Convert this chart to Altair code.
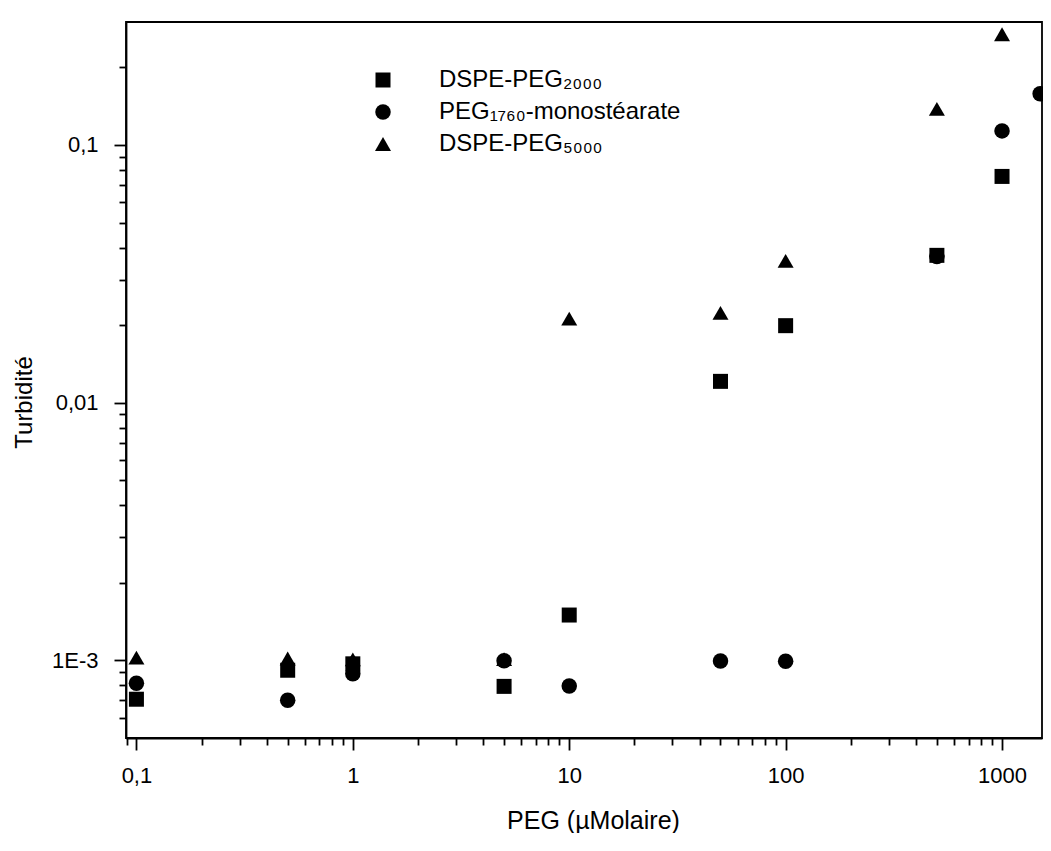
import altair as alt
import pandas as pd

# ---- data ----
x_conc = [0.1, 0.5, 1, 5, 10, 50, 100, 500, 1000]
dspe_peg2000 = [7.07e-4, 9.16e-4, 9.7e-4, 7.93e-4, 1.50e-3, 0.0121, 0.0199, 0.0373, 0.0755]

x_conc_peg1760 = [0.1, 0.5, 1, 5, 10, 50, 100, 500, 1000, 1500]
peg1760_monostearate = [8.15e-4, 7.01e-4, 8.88e-4, 9.97e-4, 7.95e-4, 9.94e-4, 9.93e-4, 0.0369, 0.1134, 0.158]

dspe_peg5000 = [1.025e-3, 1.017e-3, 1.009e-3, 1.012e-3, 0.0212, 0.0223, 0.0355, 0.138, 0.269]

series_names = ["DSPE-PEG₂₀₀₀", "PEG₁₇₆₀-monostéarate", "DSPE-PEG₅₀₀₀"]
series_shapes = ["square", "circle", "triangle-up"]
series_sizes = [225, 256, 350]

x_tick_values = [0.09, 0.1, 0.2, 0.3, 0.4, 0.5, 0.6, 0.7, 0.8, 0.9,
                 1, 2, 3, 4, 5, 6, 7, 8, 9,
                 10, 20, 30, 40, 50, 60, 70, 80, 90,
                 100, 200, 300, 400, 500, 600, 700, 800, 900, 1000]
x_major = [0.1, 1, 10, 100, 1000]
x_major_labels = ["0,1", "1", "10", "100", "1000"]

y_tick_values = [6e-4, 7e-4, 8e-4, 9e-4,
                 0.001, 0.002, 0.003, 0.004, 0.005, 0.006, 0.007, 0.008, 0.009,
                 0.01, 0.02, 0.03, 0.04, 0.05, 0.06, 0.07, 0.08, 0.09,
                 0.1, 0.2]
y_major = [0.001, 0.01, 0.1]
y_major_labels = ["1E-3", "0,01", "0,1"]

rows = []
idx = 0
for name, xs, ys in [(series_names[0], x_conc, dspe_peg2000),
                     (series_names[1], x_conc_peg1760, peg1760_monostearate),
                     (series_names[2], x_conc, dspe_peg5000)]:
    for xv, yv in zip(xs, ys):
        rows.append({"series": name, "conc": xv, "turb": yv, "idx": idx})
        idx += 1
df = pd.DataFrame(rows)


def label_expr(vals, labs):
    expr = "''"
    for v, l in zip(vals, labs):
        expr = f"datum.value == {v} ? '{l}' : ({expr})"
    return expr


def major_test(vals):
    return "indexof([" + ",".join(str(v) for v in vals) + "], datum.value) >= 0"


FONT = "Liberation Sans"

x_axis = alt.Axis(
    values=x_tick_values,
    labelExpr=label_expr(x_major, x_major_labels),
    title="PEG (µMolaire)",
    grid=False,
    tickSize={"condition": {"test": major_test(x_major), "value": 12}, "value": 7},
    tickWidth=1.8,
    tickColor="black",
    domainColor="black",
    domainWidth=1.8,
    labelFont=FONT,
    labelFontSize=22,
    labelColor="black",
    labelPadding=15,
    labelOverlap=False,
    labelFlush=False,
    titleFont=FONT,
    titleFontSize=25,
    titleFontWeight="normal",
    titleColor="black",
    titleBaseline="alphabetic",
    titleX=467,
    titleY=90,
)

y_axis = alt.Axis(
    values=y_tick_values,
    labelExpr=label_expr(y_major, y_major_labels),
    title="Turbidité",
    grid=False,
    tickSize={"condition": {"test": major_test(y_major), "value": 12}, "value": 7},
    tickWidth=1.8,
    tickColor="black",
    domainColor="black",
    domainWidth=1.8,
    labelFont=FONT,
    labelFontSize=22,
    labelColor="black",
    labelPadding=16,
    labelOverlap=False,
    labelFlush=False,
    titleFont=FONT,
    titleFontSize=24,
    titleFontWeight="normal",
    titleColor="black",
    titleBaseline="middle",
    titleAlign="center",
    titleAngle=270,
    titleX=-102,
    titleY=380,
)

legend = alt.Legend(
    title=None,
    orient="none",
    legendX=245,
    legendY=46,
    padding=0,
    labelFont=FONT,
    labelFontSize=24,
    labelColor="black",
    labelOffset=44,
    labelLimit=400,
    symbolFillColor="black",
    symbolStrokeColor="black",
    symbolStrokeWidth=0,
    symbolOpacity=1,
    rowPadding=8,
)

chart = alt.Chart(df).mark_point(filled=True, opacity=1, color="black", strokeWidth=0).encode(
    x=alt.X("conc:Q", scale=alt.Scale(type="log", domain=[0.0895, 1530], nice=False), axis=x_axis),
    y=alt.Y("turb:Q", scale=alt.Scale(type="log", domain=[5.0e-4, 0.30], nice=False), axis=y_axis),
    shape=alt.Shape("series:N", scale=alt.Scale(domain=series_names, range=series_shapes), legend=legend),
    size=alt.Size("series:N", scale=alt.Scale(domain=series_names, range=series_sizes), legend=legend),
    order=alt.Order("idx:Q"),
).properties(
    width=916,
    height=716,
    autosize=alt.AutoSizeParams(type="none"),
    padding={"left": 118, "top": 14, "right": 1, "bottom": 95},
    background="white",
).configure_view(
    stroke="black",
    strokeWidth=1.8,
)

chart.save("out.html", embed_options={"renderer": "svg", "actions": False})
